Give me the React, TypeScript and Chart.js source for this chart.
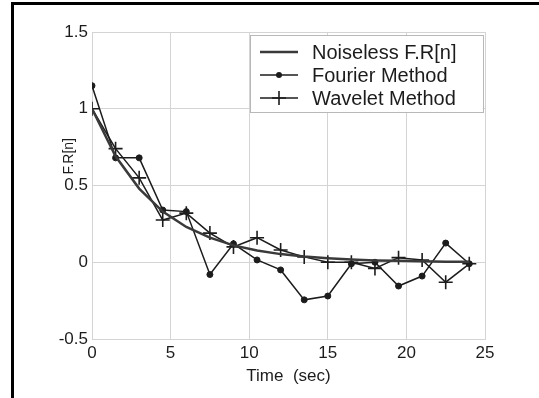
import React, { useEffect, useRef } from "react";
import { Chart, registerables } from "chart.js";

Chart.register(...registerables);

// ---- data ----
const times = [0, 1.5, 3, 4.5, 6, 7.5, 9, 10.5, 12, 13.5, 15, 16.5, 18, 19.5, 21, 22.5, 24];
const noiseless = [1.0, 0.69, 0.48, 0.33, 0.23, 0.16, 0.11, 0.077, 0.053, 0.037, 0.026, 0.018, 0.012, 0.009, 0.006, 0.004, 0.003];
const fourier = [1.15, 0.68, 0.68, 0.34, 0.33, -0.08, 0.12, 0.015, -0.05, -0.245, -0.22, -0.01, 0.0, -0.155, -0.09, 0.125, -0.01];
const wavelet = [1.0, 0.74, 0.55, 0.275, 0.32, 0.19, 0.1, 0.16, 0.08, 0.035, 0.0, 0.0, -0.04, 0.03, 0.015, -0.13, -0.01];
const seriesNames = ["Noiseless F.R[n]", "Fourier Method", "Wavelet Method"];
const xTitle = "Time  (sec)";
const yTitle = "F.R[n]";
const xMin = 0, xMax = 25, xStep = 5;
const yMin = -0.5, yMax = 1.5, yStep = 0.5;

const FONT = "'Liberation Sans', Arial, Helvetica, sans-serif";
const INK = "#1c1c1c";
const GRID = "#d4d4d4";

const toPts = (ys: number[]) => times.map((t, i) => ({ x: t, y: ys[i] }));

const overlayPlugin = {
  id: "overlay",
  afterDraw(chart: any) {
    const { ctx, chartArea } = chart;
    const ca = chartArea;
    ctx.save();
    // y title
    ctx.fillStyle = INK;
    ctx.font = `14px ${FONT}`;
    ctx.textAlign = "center";
    ctx.textBaseline = "middle";
    ctx.save();
    ctx.translate(ca.left - 23, ca.top + (ca.bottom - ca.top) * 0.405);
    ctx.rotate(-Math.PI / 2);
    ctx.fillText(yTitle, 0, 0);
    ctx.restore();
    // x title
    ctx.font = `17px ${FONT}`;
    ctx.fillText(xTitle, (ca.left + ca.right) / 2, ca.bottom + 37);

    // legend
    const bw = 233, bh = 77;
    const bx = ca.right - 2 - bw;
    const by = ca.top + 3;
    ctx.fillStyle = "#ffffff";
    ctx.fillRect(bx, by, bw, bh);
    ctx.strokeStyle = "#b8b8b8";
    ctx.lineWidth = 1;
    ctx.strokeRect(bx + 0.5, by + 0.5, bw, bh);
    const rows = [17, 40, 63];
    const ds = chart.data.datasets;
    for (let i = 0; i < 3; i++) {
      const yy = by + rows[i];
      const d = ds[i];
      ctx.strokeStyle = d.borderColor;
      ctx.lineWidth = d.borderWidth;
      ctx.beginPath();
      ctx.moveTo(bx + 10, yy);
      ctx.lineTo(bx + 48, yy);
      ctx.stroke();
      const mx = bx + 29;
      if (d.pointStyle === "circle" && d.pointRadius > 0) {
        ctx.fillStyle = d.pointBackgroundColor;
        ctx.beginPath();
        ctx.arc(mx, yy, d.pointRadius, 0, Math.PI * 2);
        ctx.fill();
      } else if (d.pointStyle === "cross") {
        ctx.lineWidth = d.pointBorderWidth;
        ctx.beginPath();
        ctx.moveTo(mx - d.pointRadius, yy);
        ctx.lineTo(mx + d.pointRadius, yy);
        ctx.moveTo(mx, yy - d.pointRadius);
        ctx.lineTo(mx, yy + d.pointRadius);
        ctx.stroke();
      }
      ctx.fillStyle = INK;
      ctx.font = `20px ${FONT}`;
      ctx.textAlign = "left";
      ctx.textBaseline = "middle";
      ctx.fillText(seriesNames[i], bx + 62, yy + 1);
    }
    ctx.restore();
  },
};

export default function App() {
  const ref = useRef<HTMLCanvasElement | null>(null);
  useEffect(() => {
    if (!ref.current) return;
    const chart = new Chart(ref.current, {
      type: "line",
      data: {
        datasets: [
          {
            label: seriesNames[0],
            data: toPts(noiseless),
            borderColor: "#3a3a3a",
            borderWidth: 2.5,
            pointRadius: 0,
            pointStyle: "line",
            tension: 0,
          } as any,
          {
            label: seriesNames[1],
            data: toPts(fourier),
            borderColor: INK,
            borderWidth: 1.5,
            pointStyle: "circle",
            pointRadius: 3,
            pointBackgroundColor: INK,
            pointBorderColor: INK,
            pointBorderWidth: 1,
            tension: 0,
          },
          {
            label: seriesNames[2],
            data: toPts(wavelet),
            borderColor: INK,
            borderWidth: 1.5,
            pointStyle: "cross",
            pointRadius: 7,
            pointBorderColor: INK,
            pointBorderWidth: 1.6,
            tension: 0,
          },
        ],
      },
      options: {
        animation: false,
        responsive: false,
        devicePixelRatio: 1,
        layout: { padding: { top: 32, right: 54, left: 0, bottom: 0 } },
        plugins: { legend: { display: false }, tooltip: { enabled: false } },
        scales: {
          x: {
            type: "linear",
            min: xMin,
            max: xMax,
            ticks: { stepSize: xStep, color: INK, font: { family: FONT, size: 17 }, padding: 4, maxRotation: 0 },
            grid: { color: GRID, drawTicks: false },
            border: { color: GRID },
            afterFit: (s: any) => { s.height = 59; },
          },
          y: {
            type: "linear",
            min: yMin,
            max: yMax,
            ticks: {
              stepSize: yStep,
              color: INK,
              font: { family: FONT, size: 17 },
              padding: 4,
              callback: (v: any) => String(Number(v)),
            },
            grid: { color: GRID, drawTicks: false },
            border: { color: GRID },
            afterFit: (s: any) => { s.width = 92; },
          },
        },
      },
      plugins: [overlayPlugin],
    });
    return () => chart.destroy();
  }, []);

  return (
    <div style={{ position: "fixed", left: 0, top: 0, width: 539, height: 398, background: "#fff", overflow: "hidden" }}>
      <div
        style={{
          position: "absolute",
          left: 11,
          top: 2,
          right: -10,
          bottom: -10,
          borderLeft: "3px solid #000",
          borderTop: "3px solid #000",
        }}
      />
      <canvas ref={ref} width={539} height={398} style={{ position: "absolute", left: 0, top: 0, width: 539, height: 398 }} />
    </div>
  );
}
